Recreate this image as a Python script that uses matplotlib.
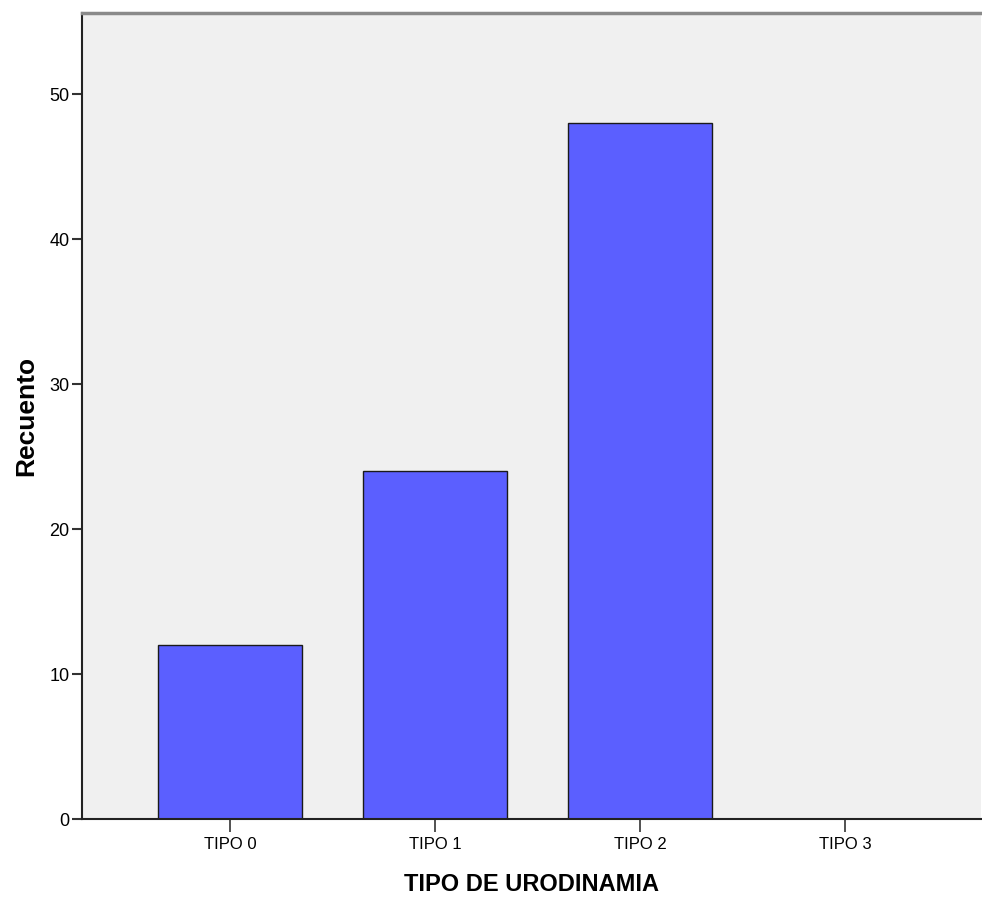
import numpy as np
import matplotlib.pyplot as plt

categorias = ["TIPO 0", "TIPO 1", "TIPO 2", "TIPO 3"]
recuento = [12, 24, 48, 0]
yticks = [0, 10, 20, 30, 40, 50]

fam = ["Liberation Sans", "DejaVu Sans"]

fig = plt.figure(figsize=(9.82, 9.0), dpi=100)
ax = fig.add_axes([82/982, 81/900, 899/982, 806/900])
ax.set_facecolor("#f0f0f0")

x = np.arange(len(categorias))
ax.bar(x, recuento, width=0.70, color="#5b5fff", edgecolor="#1a1a1a", linewidth=1.0, zorder=2)

ax.set_xlim(-0.722, 3.663)
ax.set_ylim(0, 55.6)
ax.set_xticks(x)
ax.set_xticklabels(categorias, family=fam, fontsize=12)
ax.set_yticks(yticks)
ax.set_yticklabels([str(v) for v in yticks], family=fam, fontsize=13)
ax.tick_params(axis="x", length=9, width=1.2, color="#333333", pad=4)
ax.tick_params(axis="y", length=7, width=1.5, color="#333333", pad=2)

for s in ["left", "bottom"]:
    ax.spines[s].set_color("#222222")
    ax.spines[s].set_linewidth(1.5)
ax.spines["top"].set_color("#8a8a8a")
ax.spines["top"].set_linewidth(2.5)
ax.spines["right"].set_visible(False)

ax.set_xlabel("TIPO DE URODINAMIA", family=fam, fontsize=17, fontweight="bold", labelpad=15)
ax.set_ylabel("Recuento", family=fam, fontsize=19, fontweight="bold", labelpad=8)

fig.savefig("out.png", dpi=100)
